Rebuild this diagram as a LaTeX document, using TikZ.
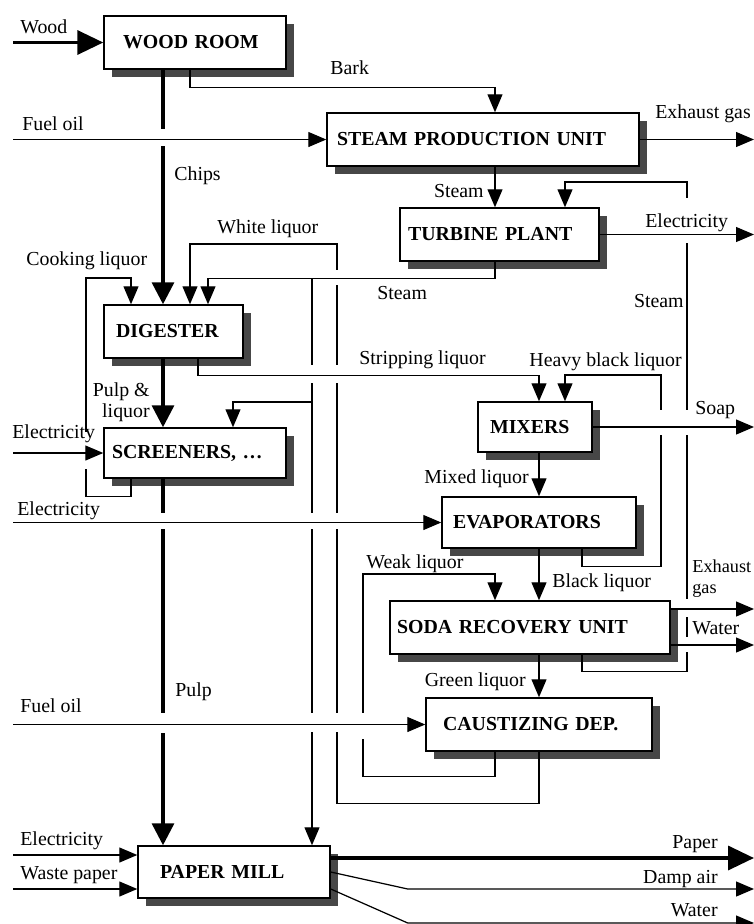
\documentclass[tikz,border=0pt]{standalone}
\usepackage{fontspec}
\setmainfont{Liberation Serif}
\usetikzlibrary{arrows.meta,shadows}
\begin{document}
\begin{tikzpicture}[x=0.02cm,y=-0.02cm,
  every node/.style={font=\fontsize{11.3}{12}\selectfont},
  unit/.style={draw,line width=0.85pt,fill=white,font=\fontsize{11.3}{12}\selectfont\bfseries,align=left,
    minimum height=1.06cm,inner ysep=0pt,
    drop shadow={shadow xshift=0.16cm,shadow yshift=-0.16cm,fill=black!72,opacity=1}},
  txt/.style={inner sep=0pt},
  flow/.style={line width=0.7pt,-{Triangle[length=0.36cm,width=0.3cm]}},
  bulk/.style={line width=1.9pt,-{Triangle[length=0.44cm,width=0.44cm]}},
  main/.style={line width=2pt,-{Triangle[length=0.52cm,width=0.48cm]}}]
\useasboundingbox (0,0) rectangle (754,924);

\node[unit,text width=2.88cm,inner xsep=0.38cm] (wood) at (195,42.5) {WOOD ROOM};
\node[unit,text width=5.84cm,inner xsep=0.2cm] (steam) at (483,139.5) {STEAM PRODUCTION UNIT};
\node[unit,text width=3.66cm,inner xsep=0.16cm] (turbine) at (499.5,234.5) {TURBINE PLANT};
\node[unit,text width=2.3cm,inner xsep=0.24cm] (digester) at (173.5,331.5) {DIGESTER};
\node[unit,text width=3.32cm,inner xsep=0.16cm,minimum height=1cm] (screen) at (195,453) {SCREENERS, \dots};
\node[unit,text width=1.8cm,inner xsep=0.24cm,minimum height=1cm] (mixers) at (535,427) {MIXERS};
\node[unit,text width=3.44cm,inner xsep=0.22cm,minimum height=1.02cm] (evap) at (539,522.5) {EVAPORATORS};
\node[unit,text width=5.32cm,inner xsep=0.14cm] (soda) at (530,627.5) {SODA RECOVERY UNIT};
\node[unit,text width=3.84cm,inner xsep=0.34cm] (caust) at (539,724.5) {CAUSTIZING DEP.};
\node[unit,text width=2.96cm,inner xsep=0.44cm,minimum height=1.04cm] (paper) at (234,872) {PAPER MILL};

\coordinate (lft) at (13,0);
\coordinate (rgt) at (754,0);
\coordinate (xcook) at (86,0);
\coordinate (xcookin) at (131,0);
\coordinate (xchips) at (163,0);
\coordinate (xbark) at (190,0);
\coordinate (xstrip) at (198,0);
\coordinate (xstmd) at (208,0);
\coordinate (xscr) at (233,0);
\coordinate (xbus) at (312,0);
\coordinate (xwhite) at (337,0);
\coordinate (xweak) at (363,0);
\coordinate (xstm) at (495,0);
\coordinate (xmain) at (539,0);
\coordinate (xret) at (565,0);
\coordinate (xout) at (582,0);
\coordinate (xheavy) at (661,0);
\coordinate (xrbus) at (687,0);
\coordinate (yret) at (0,182);
\coordinate (ywhite) at (0,244);
\coordinate (ystm) at (0,278);
\coordinate (ystrip) at (0,375);
\coordinate (yscr) at (0,402);
\coordinate (yweak) at (0,574);
\coordinate (yexh) at (0,609);
\coordinate (ywater) at (0,645);
\coordinate (yelec) at (0,855);
\coordinate (ypaper) at (0,858);
\coordinate (ydamp) at (0,872);
\coordinate (ywet) at (0,889);
\coordinate (yend) at (0,923);

\draw[bulk] (wood.south -| xchips) -- (digester.north -| xchips);
\draw[bulk] (digester.south -| xchips) -- (screen.north -| xchips);
\draw[bulk] (screen.south -| xchips) -- (paper.north -| xchips);
\draw[flow] (soda.south -| xout) -- ++(0,17) -| (yret -| xrbus) -| (turbine.north -| xret);
\draw[flow] (caust.south -| xmain) -- ++(0,52) -| (ywhite -| xwhite) -| (digester.north -| xbark);
\draw[flow] (ystm -| xbus) -- (paper.north -| xbus);
\draw[flow] (yscr -| xbus) -| (screen.north -| xscr);
\draw[flow] (caust.south -| xstm) -- ++(0,25) -| (yweak -| xweak) -| (soda.north -| xstm);
\draw[flow] (screen.south -| xcookin) -- ++(0,18) -| (ystm -| xcook) -| (digester.north -| xcookin);
\draw[flow] (evap.south -| xout) -- ++(0,18) -| (ystrip -| xheavy) -| (mixers.north -| xret);

\draw[main] (lft |- wood.west) -- (wood.west);
\draw[flow] (wood.south -| xbark) -- ++(0,18) -| (steam.north -| xstm);
\draw[flow] (steam.east) -- (rgt |- steam.east);
\draw[flow] (steam.south -| xstm) -- (turbine.north -| xstm);
\draw[flow] (mixers.south -| xmain) -- (evap.north -| xmain);
\draw[flow] (evap.south -| xmain) -- (soda.north -| xmain);
\draw[flow] (soda.south -| xmain) -- (caust.north -| xmain);
\draw[flow] (lft |- yelec) -- (paper.west |- yelec);
\draw[flow] (lft |- ywet) -- (paper.west |- ywet);
\draw[main] (paper.east |- ypaper) -- (rgt |- ypaper);
\draw[flow] (paper.east |- ydamp) -- ++(77,17) -- (rgt |- ywet);
\draw[flow] (paper.east |- ywet) -- ++(77,34) -- (rgt |- yend);

\foreach \x/\ya/\yb in {163/129/146,163/513/529,163/713/733,687/198/243,337/270/285,312/365/383,
  337/365/383,661/410/435,687/410/435,86/432/469,312/513/529,337/513/529,687/599/617,687/637/652,
  312/713/732,337/713/732,363/713/739}
  \fill[white] (\x-4,\ya) rectangle (\x+4,\yb);

\draw[flow] (lft |- steam.west) -- (steam.west);
\draw[flow] (turbine.east) -- (rgt |- turbine.east);
\draw[flow] (turbine.south -| xstm) -- ++(0,17) -| (digester.north -| xstmd);
\draw[flow] (digester.south -| xstrip) -- ++(0,17) -| (mixers.north -| xmain);
\draw[flow] (mixers.east) -- (rgt |- mixers.east);
\draw[flow] (lft |- screen.west) -- (screen.west);
\draw[flow] (lft |- evap.west) -- (evap.west);
\draw[flow] (soda.east |- yexh) -- (rgt |- yexh);
\draw[flow] (soda.east |- ywater) -- (rgt |- ywater);
\draw[flow] (lft |- caust.west) -- (caust.west);

\node[txt,anchor=base west] (t-wood) at (20,33) {Wood};
\node[txt,anchor=base west] (t-fuel1) at (22,130) {Fuel oil};
\node[txt,anchor=base west] (t-bark) at (330,74) {Bark};
\node[txt,anchor=base west] (t-chips) at (174,180) {Chips};
\node[txt,anchor=base west] (t-exh1) at (655,118) {Exhaust gas};
\node[txt,anchor=base east] (t-steam1) at (484,197) {Steam};
\node[txt,anchor=base west] (t-white) at (217,233) {White liquor};
\node[txt,anchor=base west] (t-elec1) at (645,227) {Electricity};
\node[txt,anchor=base west] (t-cook) at (26,265) {Cooking liquor};
\node[txt,anchor=base west] (t-steam2) at (377,299) {Steam};
\node[txt,anchor=base east] (t-steam3) at (684,307) {Steam};
\node[txt,anchor=base west] (t-strip) at (359,364) {Stripping liquor};
\node[txt,anchor=base east] (t-heavy) at (682,366) {Heavy black liquor};
\node[txt,anchor=base west] (t-soap) at (695,414) {Soap};
\node[txt,anchor=east,align=right] (t-pulpl) at (150,402) {Pulp \&\\liquor};
\node[txt,anchor=base west] (t-elec2) at (12,438) {Electricity};
\node[txt,anchor=base east] (t-mixed) at (529,483) {Mixed liquor};
\node[txt,anchor=base west] (t-elec3) at (17,515) {Electricity};
\node[txt,anchor=base west] (t-weak) at (366,568) {Weak liquor};
\node[txt,anchor=base west] (t-black) at (552,587) {Black liquor};
\node[txt,anchor=west,align=left,font=\fontsize{10.4}{12}\selectfont] (t-exh2) at (692,579) {Exhaust\\gas};
\node[txt,anchor=base west] (t-water1) at (692,634) {Water};
\node[txt,anchor=base east] (t-green) at (526,686) {Green liquor};
\node[txt,anchor=base west] (t-pulp) at (175,696) {Pulp};
\node[txt,anchor=base west] (t-fuel2) at (20,712) {Fuel oil};
\node[txt,anchor=base west] (t-elec4) at (20,845) {Electricity};
\node[txt,anchor=base west] (t-waste) at (20,879) {Waste paper};
\node[txt,anchor=base east] (t-paper) at (718,848) {Paper};
\node[txt,anchor=base east] (t-damp) at (718,883) {Damp air};
\node[txt,anchor=base east] (t-water2) at (718,916) {Water};
\end{tikzpicture}
\end{document}
